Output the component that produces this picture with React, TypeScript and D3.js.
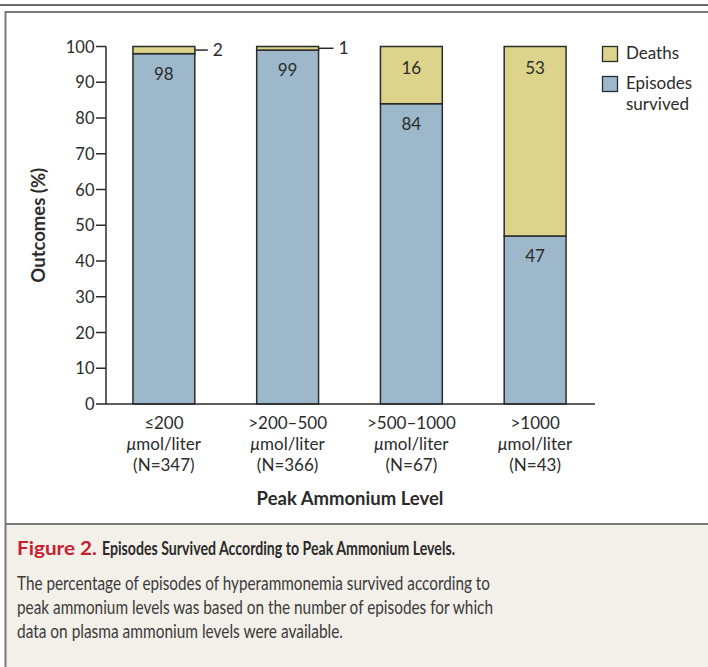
import React, { useEffect } from 'react';
import * as d3 from 'd3';

// categories and outcome percentages
const levels = ['≤200', '>200–500', '>500–1000', '>1000'];
const nCounts = [347, 366, 67, 43];
const survived = [98, 99, 84, 47];
const deaths = [2, 1, 16, 53];
const yTicks = [0, 10, 20, 30, 40, 50, 60, 70, 80, 90, 100];

const BLUE = '#9db8ca';
const YELLOW = '#ddd48b';
const INK = '#2b2b2b';
const FONT = 'Lato, "Open Sans", sans-serif';

const W = 708;
const H = 667;

const App: React.FC = () => {
  useEffect(() => {
    document.body.style.margin = '0';
  }, []);

  const x = d3.scaleBand<string>()
    .domain(levels)
    .range([102, 597])
    .paddingInner(0.5)
    .paddingOuter(0.25);

  const y = d3.scaleLinear().domain([0, 100]).range([404, 46.5]);

  const rows = levels.map((lv, i) => ({ lv, n: nCounts[i], s: survived[i], d: deaths[i] }));

  return (
    <svg width={W} height={H} style={{ display: 'block' }} fontFamily={FONT}>
      <rect x={0} y={0} width={W} height={H} fill="white" />
      {/* frame */}
      <line x1={0} x2={W} y1={5} y2={5} stroke="#6b6b6b" strokeWidth={2} />
      <rect x={6} y={524} width={W - 6} height={H - 524} fill="#f3f0e9" />
      <line x1={5} x2={W} y1={12} y2={12} stroke="#7a7a7a" strokeWidth={2} />
      <line x1={5.5} x2={5.5} y1={11} y2={H} stroke="#7a7a7a" strokeWidth={2} />
      <line x1={5} x2={W} y1={524} y2={524} stroke="#7a7a7a" strokeWidth={2} />

      {/* y axis */}
      <line x1={106} x2={106} y1={y(100)} y2={y(0)} stroke={INK} strokeWidth={1.5} />
      {yTicks.map(t => (
        <g key={t}>
          <line x1={96} x2={106} y1={y(t)} y2={y(t)} stroke={INK} strokeWidth={1.5} />
          <text x={94.5} y={y(t) + 6} textAnchor="end" fontSize={16.5} fill={INK}>{t}</text>
        </g>
      ))}
      <text
        transform={`translate(45,${(y(0) + y(100)) / 2}) rotate(-90)`}
        textAnchor="middle"
        fontSize={18.5}
        fontWeight={700}
        fill={INK}
      >
        Outcomes (%)
      </text>

      {/* bars */}
      {rows.map(r => {
        const bx = x(r.lv)!;
        const bw = x.bandwidth();
        return (
          <g key={r.lv}>
            <rect x={bx} y={y(r.s)} width={bw} height={y(0) - y(r.s)} fill={BLUE} stroke={INK} strokeWidth={1.5} />
            <rect x={bx} y={y(100)} width={bw} height={y(r.s) - y(100)} fill={YELLOW} stroke={INK} strokeWidth={1.5} />
            <text x={bx + bw / 2} y={y(r.s) + 26} textAnchor="middle" fontSize={17} fill={INK}>{r.s}</text>
            {r.d >= 10 ? (
              <text x={bx + bw / 2} y={y(100) + 27} textAnchor="middle" fontSize={17} fill={INK}>{r.d}</text>
            ) : (
              <g>
                <line
                  x1={bx + bw}
                  x2={bx + bw + (r.d > 1 ? 13 : 15)}
                  y1={y(100 - r.d / 2)}
                  y2={y(100 - r.d / 2)}
                  stroke={INK}
                  strokeWidth={1.5}
                />
                <text x={bx + bw + (r.d > 1 ? 18 : 20)} y={y(100 - r.d / 2) + 6} fontSize={17.5} fill={INK}>{r.d}</text>
              </g>
            )}
            <text x={bx + bw / 2} y={429} textAnchor="middle" fontSize={17} fill={INK}>{r.lv}</text>
            <text x={bx + bw / 2} y={450} textAnchor="middle" fontSize={17} fill={INK}>
              <tspan fontStyle="italic">μ</tspan>mol/liter
            </text>
            <text x={bx + bw / 2} y={471} textAnchor="middle" fontSize={17} fill={INK}>(N={r.n})</text>
          </g>
        );
      })}

      {/* x axis */}
      <line x1={106} x2={595} y1={y(0)} y2={y(0)} stroke={INK} strokeWidth={1.5} />
      <text x={350} y={505} textAnchor="middle" fontSize={18.5} fontWeight={700} fill={INK}>
        Peak Ammonium Level
      </text>

      {/* legend */}
      <rect x={602.5} y={46.5} width={15} height={15} fill={YELLOW} stroke={INK} strokeWidth={1.3} />
      <text x={626} y={59} fontSize={17} fill={INK}>Deaths</text>
      <rect x={602.5} y={76.5} width={15} height={15} fill={BLUE} stroke={INK} strokeWidth={1.3} />
      <text x={626} y={89} fontSize={17} fill={INK}>Episodes</text>
      <text x={626} y={110} fontSize={17} fill={INK}>survived</text>

      {/* caption */}
      <text x={17} y={555} fontSize={18.5} fontWeight={700} fill="#c8202f" textLength={80} lengthAdjust="spacingAndGlyphs">
        Figure 2.
      </text>
      <text x={102} y={555} fontSize={18.5} fontWeight={700} fill={INK} textLength={353} lengthAdjust="spacingAndGlyphs">
        Episodes Survived According to Peak Ammonium Levels.
      </text>
      <text x={17} y={590} fontSize={19} fill="#3a3a3a" textLength={473} lengthAdjust="spacingAndGlyphs">
        The percentage of episodes of hyperammonemia survived according to
      </text>
      <text x={17} y={614} fontSize={19} fill="#3a3a3a" textLength={476} lengthAdjust="spacingAndGlyphs">
        peak ammonium levels was based on the number of episodes for which
      </text>
      <text x={17} y={638} fontSize={19} fill="#3a3a3a" textLength={326} lengthAdjust="spacingAndGlyphs">
        data on plasma ammonium levels were available.
      </text>
    </svg>
  );
};

export default App;
